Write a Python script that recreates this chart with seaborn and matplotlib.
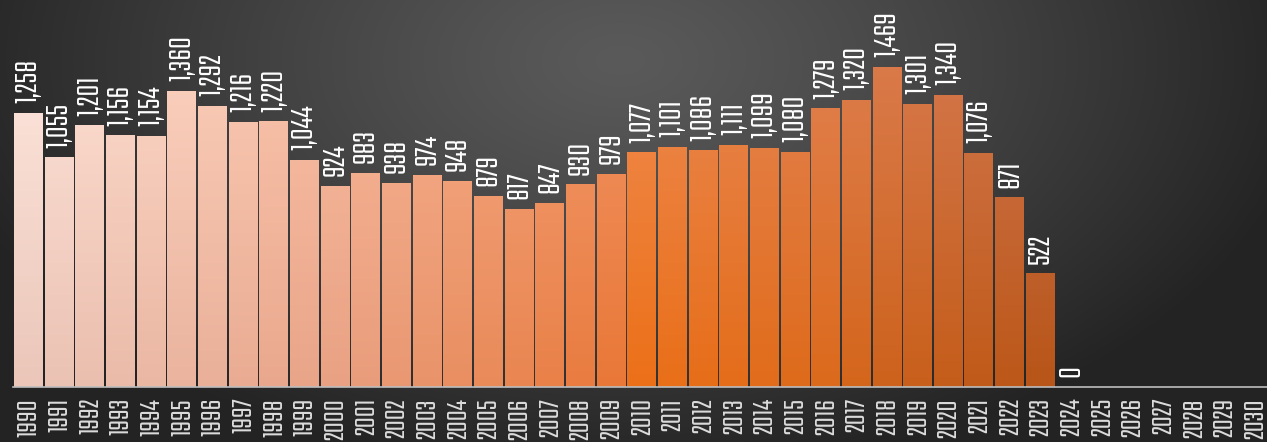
import numpy as np
import pandas as pd
import matplotlib
matplotlib.use('Agg')
import matplotlib.pyplot as plt
import seaborn as sns
from matplotlib.colors import to_rgb

# ─────────────────────────────────────────────
# DATA
# ─────────────────────────────────────────────
years = [str(y) for y in range(1990, 2031)]
values = [1258, 1055, 1201, 1156, 1154, 1360, 1292, 1216, 1220, 1044,
          924, 983, 938, 974, 948, 879, 817, 847, 930, 979,
          1077, 1101, 1086, 1111, 1099, 1080, 1279, 1320, 1469, 1301,
          1340, 1076, 871, 522, 0,
          np.nan, np.nan, np.nan, np.nan, np.nan, np.nan]

# ─────────────────────────────────────────────
# STYLE
# ─────────────────────────────────────────────
W, H, DPI = 1267, 442, 100
Y_MAX = 1777

# colour anchors (bar index -> colour) for bar top / bottom
TOP_ANCHORS = {0: '#fde5dc', 10: '#f8bb9f', 19: '#f19262', 20: '#ef8a4e',
               26: '#e07f4e', 28: '#da7a4a', 33: '#c9704a', 40: '#c9704a'}
BOT_ANCHORS = {0: '#ebc6b9', 10: '#e9a183', 19: '#e97838', 20: '#ec7018',
               26: '#dc6a1c', 28: '#cd621c', 33: '#b85518', 40: '#b85518'}

FONT = ['Saira Extra Condensed', 'Teko', 'Oswald', 'DejaVu Sans']
plt.rcParams['font.family'] = FONT
plt.rcParams['font.weight'] = 'bold'


def interp_colour(anchors, i):
    keys = sorted(anchors)
    cols = np.array([to_rgb(anchors[k]) for k in keys])
    return np.array([np.interp(i, keys, cols[:, c]) for c in range(3)])


df = pd.DataFrame({'year': years, 'value': values})

fig = plt.figure(figsize=(W / DPI, H / DPI), dpi=DPI)

# background radial gradient
bg = fig.add_axes([0, 0, 1, 1], zorder=0)
yy, xx = np.mgrid[0:H, 0:W]
r = np.sqrt(((xx - 620) / 700.0) ** 2 + ((yy - 60) / 420.0) ** 2)
shade = 90 - (90 - 35) * np.clip(r, 0, 1) ** 1.2
bg.imshow(np.dstack([shade / 255.0] * 3), aspect='auto', extent=(0, W, H, 0))
bg.axis('off')

# main axes
ax = fig.add_axes([13 / W, 55 / H, 1257 / W, 387 / H], zorder=1)
ax.patch.set_alpha(0)

sns.barplot(data=df, x='year', y='value', order=years, color='#f08a4e',
            width=0.93, saturation=1, errorbar=None, ax=ax)

# vertical gradient inside each bar
for p in ax.patches:
    x0, w, h = p.get_x(), p.get_width(), p.get_height()
    if not np.isfinite(h) or h <= 0:
        continue
    idx = int(round(x0 + w / 2))
    top = interp_colour(TOP_ANCHORS, idx)
    bot = interp_colour(BOT_ANCHORS, idx)
    t = np.linspace(1, 0, 100)[:, None]
    grad = (t * top + (1 - t) * bot)[:, None, :]
    im = ax.imshow(grad, extent=(x0, x0 + w, 0, 1500), aspect='auto',
                   zorder=2, origin='upper')
    im.set_clip_path(p)
    p.set_facecolor('none')
    p.set_edgecolor('none')

# value labels
for i, v in enumerate(values):
    if np.isnan(v):
        continue
    ax.annotate(f"{int(v):,}", (i, v), xytext=(0, 7), textcoords='offset points',
                rotation=90, ha='center', va='bottom', color='white',
                fontsize=24, fontweight='bold', zorder=3)

ax.set_xlim(-0.5, len(years) - 0.5)
ax.set_ylim(0, Y_MAX)
ax.set_xlabel('')
ax.set_ylabel('')
ax.set_yticks([])
ax.tick_params(axis='x', length=0, pad=8, labelsize=22, labelcolor='#dcdcdc',
               labelrotation=90)
for lbl in ax.get_xticklabels():
    lbl.set_fontweight('bold')
for side in ['top', 'right', 'left']:
    ax.spines[side].set_visible(False)
ax.spines['bottom'].set_color('#bdbdbd')
ax.spines['bottom'].set_linewidth(1.2)
ax.spines['bottom'].set_zorder(4)

fig.savefig('out.png', dpi=DPI)
